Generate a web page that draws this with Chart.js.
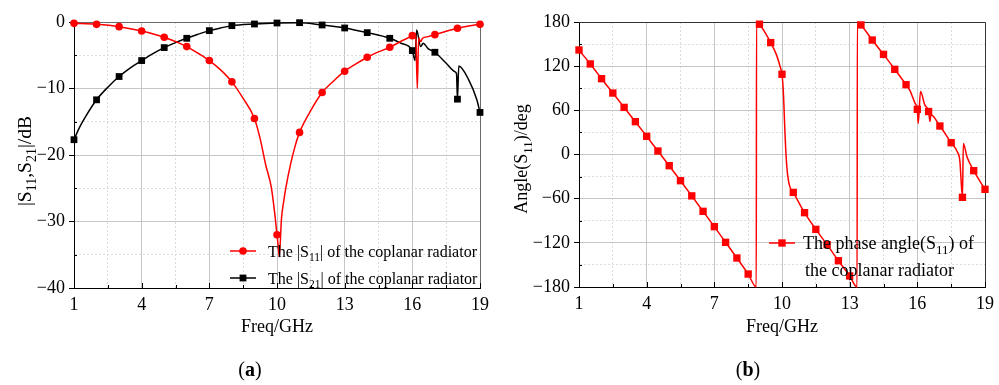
<!DOCTYPE html>
<html><head><meta charset="utf-8">
<script src="https://cdn.jsdelivr.net/npm/chart.js@4"></script>
<style>
html,body{margin:0;padding:0;background:#fff;}
#wrap{position:relative;width:999px;height:385px;overflow:hidden;background:#fff;}
canvas{position:absolute;top:0;}
.tag{position:absolute;top:358px;font:20px "Liberation Serif","Times New Roman",serif;color:#000;transform:translateX(-50%);white-space:nowrap;}
</style></head><body>
<div id="wrap">
<canvas id="ca" width="500" height="385" style="left:0;width:500px;height:385px"></canvas>
<canvas id="cb" width="500" height="385" style="left:499px;width:500px;height:385px"></canvas>
<div class="tag" style="left:250px">(<b>a</b>)</div>
<div class="tag" style="left:748px">(<b>b</b>)</div>
</div>
<script>
// ---------- data ----------
const s11Freq = [1,2,3,4,5,6,6.5,7,7.5,8,8.5,9,9.25,9.5,9.75,9.9,10,10.05,10.1,10.2,10.3,10.4,10.6,10.8,11,11.5,12,12.5,13,13.5,14,14.5,15,15.5,16,16.15,16.22,16.28,16.37,16.45,16.7,17,17.5,18,18.5,19];
const s11dB   = [-0.2,-0.35,-0.7,-1.35,-2.3,-3.7,-4.7,-5.8,-7.2,-9.0,-11.5,-14.5,-17.5,-21.5,-24.9,-28.8,-32.0,-33.6,-35.3,-29.5,-26.9,-24.8,-21.4,-18.7,-16.6,-13.3,-10.6,-8.9,-7.4,-6.3,-5.3,-4.5,-3.8,-2.9,-2.05,-1.75,-10.0,-2.4,-2.95,-2.45,-2.2,-1.9,-1.4,-0.95,-0.6,-0.35];

const s21Freq = [1,1.25,1.5,2,2.5,3,3.5,4,4.5,5,5.5,6,6.5,7,7.5,8,9,10,11,12,13,14,15,15.5,16,16.12,16.19,16.37,16.48,16.7,17,17.5,17.9,17.96,18,18.06,18.5,18.86,19];
const s21dB   = [-17.7,-15.8,-14.3,-11.7,-9.8,-8.2,-6.9,-5.8,-4.75,-3.85,-3.1,-2.45,-1.85,-1.3,-0.9,-0.55,-0.3,-0.15,-0.1,-0.45,-0.9,-1.6,-2.45,-3.2,-4.3,-5.8,-1.2,-3.7,-3.2,-4.0,-4.55,-6.2,-7.5,-7.8,-11.6,-6.6,-8.7,-11.7,-13.6];

const phFreq = [1,1.5,2,2.5,3,3.5,4,4.5,5,5.5,6,6.5,7,7.5,8,8.5,8.86,8.87,9,9.5,9.76,9.94,10,10.06,10.13,10.18,10.25,10.35,10.5,11,11.5,12,12.5,13,13.33,13.34,13.5,14,14.5,15,15.5,15.67,15.9,16,16.04,16.14,16.33,16.5,16.56,16.6,17,17.5,17.77,17.89,17.93,18,18.04,18.2,18.5,19];
const phDeg  = [142,123,103,83.5,64,44.6,24.7,4.7,-15.2,-35.6,-56.2,-77.2,-98,-119.3,-140.6,-162.4,-180,180,177,152,135,117,109,85,31,-1,-28,-44,-51.5,-79,-101.7,-122.5,-144.3,-165,-180,180,176,155.5,136,115.7,94.8,87,69.5,61.4,42.4,85.5,67.4,58.4,44.8,54,38.7,16,3.8,-9.8,-30.2,-58.2,15,-2.9,-22,-47.3];

const xTickLabels = [1,4,7,10,13,16,19];
const yTickLabelsA = [0,-10,-20,-30,-40];
const yTickLabelsB = [180,120,60,0,-60,-120,-180];

const legendA = [
  [{t:'The |S'},{t:'11',sub:true},{t:'| of the coplanar radiator'}],
  [{t:'The |S'},{t:'21',sub:true},{t:'| of the coplanar radiator'}]
];
const legendB = [
  [{t:'The phase angle(S'},{t:'11',sub:true},{t:') of'}],
  [{t:'the coplanar radiator'}]
];
const yTitleA = [{t:'|S'},{t:'11',sub:true},{t:',S'},{t:'21',sub:true},{t:'|/dB'}];
const yTitleB = [{t:'Angle(S'},{t:'11',sub:true},{t:')/deg'}];
const xTitle = [{t:'Freq/GHz'}];

// ---------- helpers ----------
const FAM = '"Liberation Serif","Times New Roman",serif';
const toXY = (xs, ys) => xs.map((x, i) => ({x, y: ys[i]}));
const fmt = v => v < 0 ? '\u2212' + (-v) : String(v);
const near = (v, arr) => arr.some(a => Math.abs(a - v) < 1e-6);

function richWidth(ctx, parts, size) {
  let w = 0;
  for (const p of parts) {
    ctx.font = (p.sub ? size * 0.72 : size) + 'px ' + FAM;
    w += ctx.measureText(p.t).width;
  }
  return w;
}
function drawRich(ctx, parts, x, y, size, align) {
  const w = richWidth(ctx, parts, size);
  let cx = align === 'center' ? x - w / 2 : x;
  ctx.textAlign = 'left';
  ctx.textBaseline = 'alphabetic';
  ctx.fillStyle = '#000';
  for (const p of parts) {
    const s = p.sub ? size * 0.72 : size;
    ctx.font = s + 'px ' + FAM;
    ctx.fillText(p.t, cx, y + (p.sub ? size * 0.27 : 0));
    cx += ctx.measureText(p.t).width;
  }
}
function drawMarker(ctx, style, x, y, r, color) {
  ctx.fillStyle = color;
  ctx.beginPath();
  if (style === 'circle') ctx.arc(x, y, r, 0, Math.PI * 2);
  else { const s = r * Math.SQRT1_2; ctx.rect(x - s, y - s, 2 * s, 2 * s); }
  ctx.fill();
}

const decoPlugin = {
  id: 'deco',
  beforeDatasetsDraw(chart, args, o) {
    const {ctx, chartArea: a, scales} = chart;
    ctx.save();
    ctx.strokeStyle = o.frameColor; ctx.lineWidth = 1;
    ctx.beginPath();
    ctx.moveTo(a.left, Math.round(a.top) + 0.5);
    ctx.lineTo(Math.round(a.right) + 0.5, Math.round(a.top) + 0.5);
    ctx.lineTo(Math.round(a.right) + 0.5, a.bottom);
    ctx.stroke();
    ctx.strokeStyle = '#000';
    ctx.beginPath();
    for (const t of scales.x.ticks) {
      const px = Math.round(scales.x.getPixelForValue(t.value)) + 0.5;
      const len = near(t.value, xTickLabels) ? 5 : 3;
      ctx.moveTo(px, a.bottom); ctx.lineTo(px, a.bottom - len);
    }
    for (const t of scales.y.ticks) {
      if (near(t.value, o.yMajor)) continue;
      const py = Math.round(scales.y.getPixelForValue(t.value)) + 0.5;
      ctx.moveTo(a.left, py); ctx.lineTo(a.left + 3, py);
    }
    ctx.stroke();
    ctx.restore();
  },
  afterDraw(chart, args, o) {
    const {ctx, chartArea: a} = chart;
    ctx.save();
    drawRich(ctx, xTitle, (a.left + a.right) / 2, o.xTitleY, 18, 'center');
    ctx.save();
    ctx.translate(o.yTitleX, o.yTitleY);
    ctx.rotate(-Math.PI / 2);
    drawRich(ctx, o.yTitle, 0, 0, o.yTitleSize, 'center');
    ctx.restore();
    for (const row of o.legend) {
      ctx.strokeStyle = row.color; ctx.lineWidth = 1.5;
      if (row.sample) {
        ctx.beginPath(); ctx.moveTo(row.lx0, row.ly); ctx.lineTo(row.lx1, row.ly); ctx.stroke();
        drawMarker(ctx, row.style, (row.lx0 + row.lx1) / 2, row.ly, row.r, row.color);
      }
      drawRich(ctx, row.parts, row.tx, row.ty, o.legendSize, 'left');
    }
    ctx.restore();
  }
};

function xScale(xh) {
  return {
    type: 'linear', min: 1, max: 19,
    afterFit: s => { s.height = xh; },
    ticks: {
      stepSize: 1.5, autoSkip: false, maxRotation: 0, minRotation: 0,
      font: {family: FAM, size: 18}, color: '#000', padding: 1,
      callback: v => near(v, xTickLabels) ? fmt(v) : ''
    },
    grid: {
      color: c => c.tick && near(c.tick.value, xTickLabels) ? '#c6c6c6' : '#dcdcdc',
      lineWidth: 1, drawTicks: true, tickLength: 5, tickColor: 'rgba(0,0,0,0)'
    },
    border: {display: true, color: '#000', width: 1,
      dash: c => (c.type === 'tick' && c.tick && !near(c.tick.value, xTickLabels)) ? [2, 2] : []}
  };
}
function yScale(min, max, step, majors, yw) {
  return {
    type: 'linear', min, max,
    afterFit: s => { s.width = yw; },
    ticks: {
      stepSize: step, autoSkip: false,
      font: {family: FAM, size: 18}, color: '#000', padding: 4,
      callback: v => near(v, majors) ? fmt(v) : ''
    },
    grid: {
      color: c => c.tick && near(c.tick.value, majors) ? '#c6c6c6' : '#dcdcdc',
      lineWidth: 1, drawTicks: true, tickLength: 5,
      tickColor: c => c.tick && near(c.tick.value, majors) ? '#000' : 'rgba(0,0,0,0)'
    },
    border: {display: true, color: '#000', width: 1,
      dash: c => (c.type === 'tick' && c.tick && !near(c.tick.value, majors)) ? [2, 2] : []}
  };
}

// ---------- chart (a) ----------
new Chart(document.getElementById('ca'), {
  type: 'line',
  data: {datasets: [
    {data: toXY(s11Freq, s11dB), borderColor: '#ff0000', backgroundColor: '#ff0000', borderWidth: 1.5,
     cubicInterpolationMode: 'monotone', pointStyle: 'circle', pointBorderWidth: 0,
     pointRadius: c => Number.isInteger(c.raw.x) ? 3.8 : 0, pointHoverRadius: 0, clip: false},
    {data: toXY(s21Freq, s21dB), borderColor: '#000000', backgroundColor: '#000000', borderWidth: 1.5,
     cubicInterpolationMode: 'monotone', pointStyle: 'rect', pointBorderWidth: 0,
     pointRadius: c => Number.isInteger(c.raw.x) ? 4.8 : 0, pointHoverRadius: 0, clip: false}
  ]},
  options: {
    responsive: false, animation: false, events: [],
    layout: {padding: {left: 0, top: 22, right: 20, bottom: 0}},
    scales: {x: xScale(97), y: yScale(-40, 0, 5, yTickLabelsA, 74)},
    plugins: {
      legend: {display: false}, tooltip: {enabled: false},
      deco: {
        frameColor: '#6a6a6a', yMajor: yTickLabelsA,
        xTitleY: 332, yTitleX: 31, yTitleY: 161, yTitle: yTitleA, yTitleSize: 19.5,
        legendSize: 16,
        legend: [
          {sample: true, lx0: 230, lx1: 256, ly: 251, r: 3.8, style: 'circle', color: '#ff0000', parts: legendA[0], tx: 268, ty: 257},
          {sample: true, lx0: 230, lx1: 256, ly: 278, r: 4.8, style: 'rect', color: '#000000', parts: legendA[1], tx: 268, ty: 284}
        ]
      }
    }
  },
  plugins: [decoPlugin]
});

// ---------- chart (b) ----------
new Chart(document.getElementById('cb'), {
  type: 'line',
  data: {datasets: [
    {data: toXY(phFreq, phDeg), borderColor: '#ff0000', backgroundColor: '#ff0000', borderWidth: 1.5,
     cubicInterpolationMode: 'monotone', pointStyle: 'rect', pointBorderWidth: 0,
     pointRadius: c => Number.isInteger(c.raw.x * 2) ? 5.2 : 0, pointHoverRadius: 0, clip: false}
  ]},
  options: {
    responsive: false, animation: false, events: [],
    layout: {padding: {left: 0, top: 22, right: 14, bottom: 0}},
    scales: {x: xScale(98), y: yScale(-180, 180, 30, yTickLabelsB, 80)},
    plugins: {
      legend: {display: false}, tooltip: {enabled: false},
      deco: {
        frameColor: '#333333', yMajor: yTickLabelsB,
        xTitleY: 332, yTitleX: 28, yTitleY: 159, yTitle: yTitleB, yTitleSize: 18,
        legendSize: 18,
        legend: [
          {sample: true, lx0: 270, lx1: 296, ly: 243, r: 5.2, style: 'rect', color: '#ff0000', parts: legendB[0], tx: 304, ty: 249},
          {sample: false, color: '#ff0000', parts: legendB[1], tx: 306, ty: 276}
        ]
      }
    }
  },
  plugins: [decoPlugin]
});
</script>
</body></html>
